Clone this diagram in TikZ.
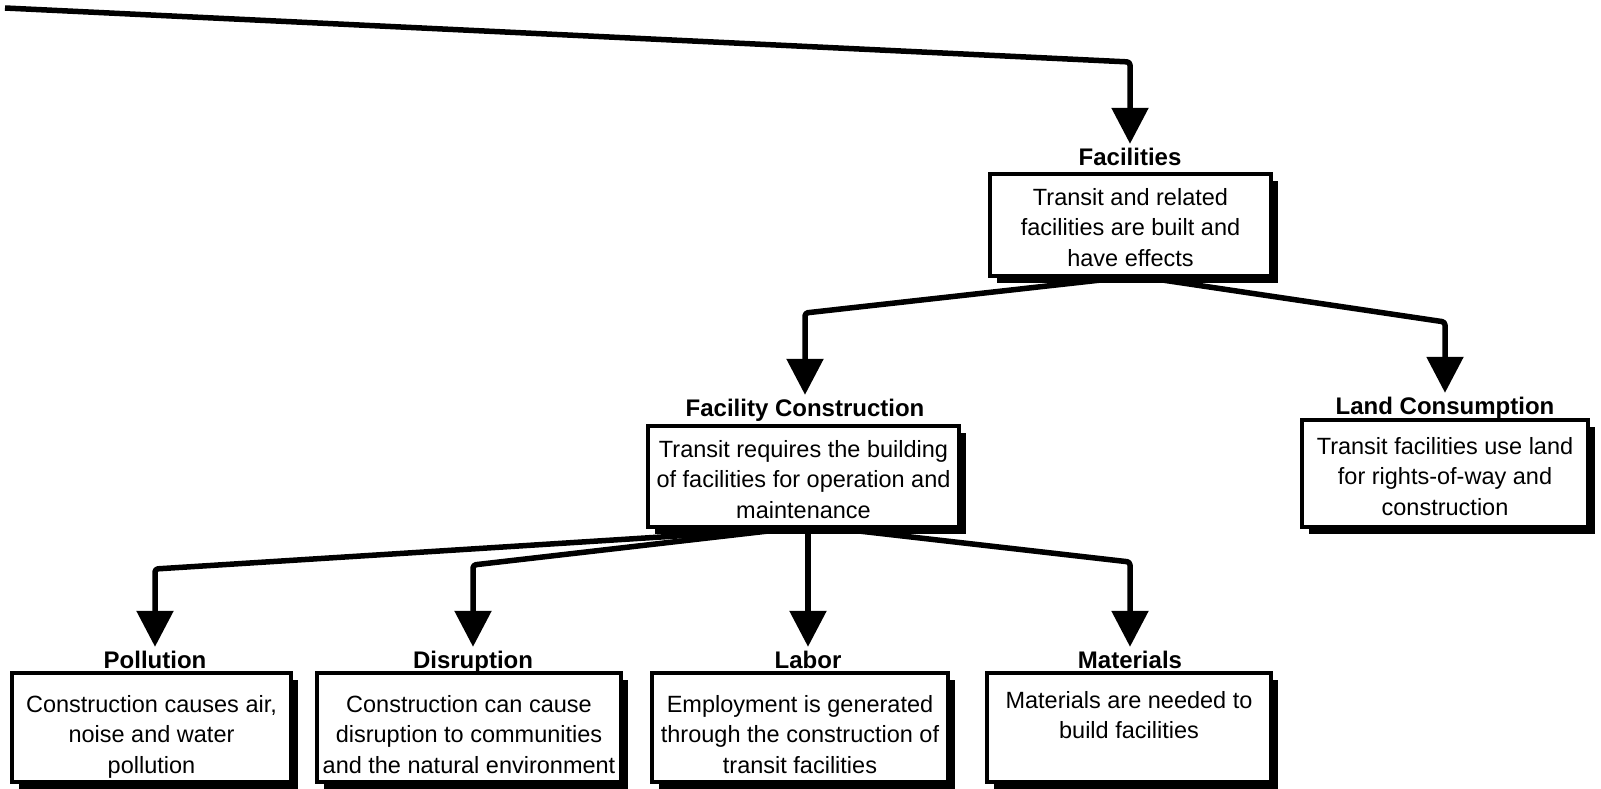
\documentclass[tikz,border=0pt]{standalone}
\usepackage{fontspec}
\setmainfont{Liberation Sans}
\usetikzlibrary{arrows.meta,shadows}
\pgfdeclarelayer{bg}
\pgfsetlayers{bg,main}

\begin{document}
\begin{tikzpicture}[x=1pt,y=-1pt,
  box/.style={draw=black, line width=4.5pt, fill=white, inner sep=0pt,
    drop shadow={shadow xshift=7pt, shadow yshift=-7pt, fill=black, opacity=1}},
  txt/.style={font=\fontsize{23.5}{30.5}\selectfont, align=center, inner sep=0pt,
    execute at begin node=\strut, execute at end node=\strut},
  lbl/.style={font=\fontsize{24}{30}\selectfont\bfseries, inner sep=0pt,
    anchor=base, text height=21pt, text depth=5pt},
  conn/.style={line width=5.5pt, line join=round, rounded corners=3pt,
    -{Triangle[width=36pt,length=36pt]}}
]
\useasboundingbox (0,0) rectangle (1601,789);

% boxes
\node[box, minimum width=281pt, minimum height=102pt] (fac) at (1130.5,225) {};
\node[box, minimum width=311pt, minimum height=101pt] (fc) at (803.5,476.5) {};
\node[box, minimum width=286pt, minimum height=107pt] (lc) at (1445,473.5) {};
\node[box, minimum width=279pt, minimum height=109pt] (pol) at (151.5,727.5) {};
\node[box, minimum width=304pt, minimum height=109pt] (dis) at (469,727.5) {};
\node[box, minimum width=296pt, minimum height=109pt] (lab) at (800,727.5) {};
\node[box, minimum width=284pt, minimum height=109pt] (mat) at (1129,727.5) {};

% box texts
\node[txt] (factxt) at ([yshift=-7pt]fac.center)
  {Transit and related\\facilities are built and\\have effects};
\node[txt] (fctxt) at ([yshift=-7.5pt]fc.center)
  {Transit requires the building\\of facilities for operation and\\maintenance};
\node[txt] (lctxt) at ([yshift=-7.5pt]lc.center)
  {Transit facilities use land\\for rights-of-way and\\construction};
\node[txt] (poltxt) at ([yshift=-11.5pt]pol.center)
  {Construction causes air,\\noise and water\\pollution};
\node[txt] (distxt) at ([yshift=-11.5pt]dis.center)
  {Construction can cause\\disruption to communities\\and the natural environment};
\node[txt] (labtxt) at ([yshift=-11.5pt]lab.center)
  {Employment is generated\\through the construction of\\transit facilities};
\node[txt] (mattxt) at ([yshift=-7.5pt]mat.center)
  {Materials are needed to\\build facilities\\};

% titles
\node[lbl] (faclab) at (1130,165) {Facilities};
\node[lbl] (fclab) at (805,416) {Facility Construction};
\node[lbl] (lclab) at (1445,414) {Land Consumption};
\node[lbl] (pollab) at (155,668) {Pollution};
\node[lbl] (dislab) at (473,668) {Disruption};
\node[lbl] (lablab) at (808,668) {Labor};
\node[lbl] (matlab) at (1130,668) {Materials};

% bends of the connectors
\coordinate (start) at (5,8);
\coordinate (kfac) at (faclab.north |- 0,62);
\coordinate (kfc) at (fclab.north |- 0,313);
\coordinate (klc) at (lclab.north |- 0,322);
\coordinate (kpol) at (pollab.north |- 0,569);
\coordinate (kdis) at (dislab.north |- 0,565);
\coordinate (kmat) at (matlab.north |- 0,562);

\begin{pgfonlayer}{bg}
  \draw[conn] (start) -- (kfac) -- (faclab.north);
  \draw[conn] ([xshift=-14pt]fac.south) -- (kfc) -- (fclab.north);
  \draw[conn] ([xshift=20pt]fac.south) -- (klc) -- (lclab.north);
  \draw[conn] ([xshift=-20pt]fc.south) -- (kpol) -- (pollab.north);
  \draw[conn] ([xshift=-20pt]fc.south) -- (kdis) -- (dislab.north);
  \draw[conn] (lablab.north |- fc.south) -- (lablab.north);
  \draw[conn] ([xshift=40pt]fc.south) -- (kmat) -- (matlab.north);
\end{pgfonlayer}
\end{tikzpicture}
\end{document}
